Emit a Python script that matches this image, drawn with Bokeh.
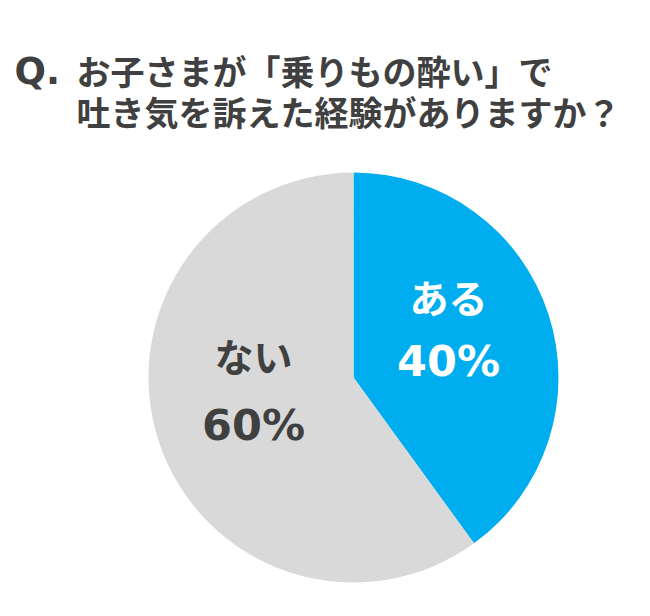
import math
from bokeh.plotting import figure
from bokeh.models import ColumnDataSource, Range1d
from bokeh.core.properties import value
from bokeh.embed import file_html
from bokeh.resources import INLINE

# data
categories = ["ある", "ない"]
percents = [40, 60]
colors = ["#00AEEF", "#D9D9D9"]
label_colors = ["#FFFFFF", "#404040"]
title_lines = ["お子さまが「乗りもの酔い」で", "吐き気を訴えた経験がありますか？"]

W, H = 634, 600
FONT = "Noto Sans CJK JP"

p = figure(width=W, height=H, output_backend="svg", toolbar_location=None,
           x_range=Range1d(0, W), y_range=Range1d(0, H), min_border=0)
p.axis.visible = False
p.grid.visible = False
p.outline_line_color = None
p.background_fill_color = "white"
p.border_fill_color = "white"

def Y(y):  # screen-space top-down -> data
    return H - y

# pie
cx, cy, r = 353, Y(377), 205
total = sum(percents)
starts, ends = [], []
a = math.pi / 2
for v in percents:
    starts.append(a)
    a -= v / total * 2 * math.pi
    ends.append(a)
src = ColumnDataSource(dict(start=starts, end=ends, color=colors))
p.wedge(x=cx, y=cy, radius=r, start_angle="start", end_angle="end",
        direction="clock", fill_color="color", line_color=None, source=src)

# slice labels
lab_pos = [(448, 295, 360), (253, 354, 424)]
names_x, names_y, pct_x, pct_y, names, pcts, lcols = [], [], [], [], [], [], []
for (x, y1, y2), c, v, lc in zip(lab_pos, categories, percents, label_colors):
    names_x.append(x); names_y.append(Y(y1)); names.append(c)
    pct_x.append(x); pct_y.append(Y(y2)); pcts.append(f"{v}%")
    lcols.append(lc)
p.text(x=names_x, y=names_y, text=names, text_color=lcols,
       text_font=value(FONT), text_font_style="bold", text_font_size="39px",
       text_align="center", text_baseline="middle")
p.text(x=pct_x, y=pct_y, text=pcts, text_color=lcols,
       text_font=value("DejaVu Sans"), text_font_style="bold", text_font_size="43px",
       text_align="center", text_baseline="middle")

# title
p.text(x=[14], y=[Y(71)], text=["Q."], text_color="#404040",
       text_font=value("DejaVu Sans"), text_font_style="bold", text_font_size="37px",
       text_align="left", text_baseline="middle")
p.text(x=[76, 76], y=[Y(70), Y(111)], text=title_lines, text_color="#404040",
       text_font=value(FONT), text_font_style="bold", text_font_size="34px",
       text_align="left", text_baseline="middle")

open("out.html", "w").write(file_html(p, INLINE))
